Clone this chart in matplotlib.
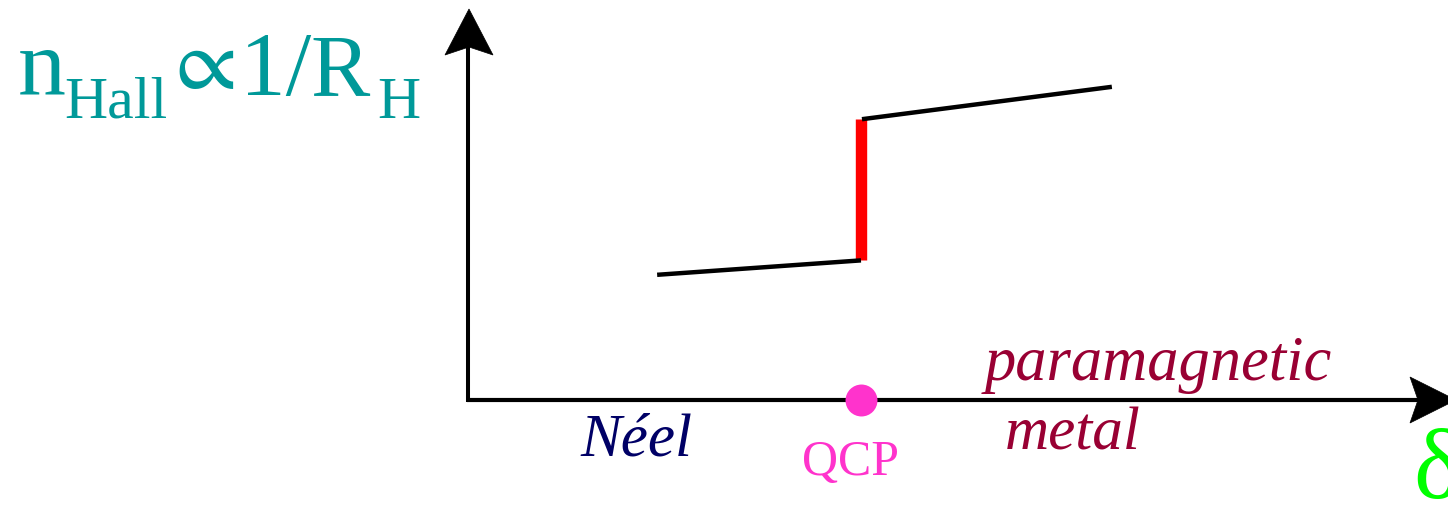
import matplotlib
matplotlib.use('Agg')
import matplotlib.pyplot as plt
from matplotlib.patches import Polygon

W, H = 1448, 505
SERIF = ['Liberation Serif', 'DejaVu Serif']

TEAL = '#009999'
GREEN = '#00FF00'
NAVY = '#000066'
PINK = '#FF33CC'
CRIMSON = '#990033'

# doping axis (arbitrary units) and Hall number on each side of the QCP
delta_neel = [0.193, 0.401]
n_neel = [0.321, 0.358]
delta_pm = [0.402, 0.657]
n_pm = [0.720, 0.803]
delta_qcp = 0.401

fig = plt.figure(figsize=(W / 100, H / 100), dpi=100, facecolor='white')

# overlay in pixel units for the axis arrows and the labels
ov = fig.add_axes([0, 0, 1, 1])
ov.set_xlim(0, W)
ov.set_ylim(H, 0)
ov.axis('off')

# data axes: origin at the corner of the two arrows
x0, y0, top = 468, 400, 10
ax = fig.add_axes([x0 / W, (H - y0) / H, (W - x0) / W, (y0 - top) / H])
ax.set_xlim(0, 1)
ax.set_ylim(0, 1)
ax.axis('off')
ax.set_facecolor('none')

# axis shafts + stealth arrow heads
ov.plot([x0, x0], [y0 + 2, 40], color='black', lw=2.9, solid_capstyle='butt')
ov.plot([x0 - 1, 1430], [y0, y0], color='black', lw=3.0, solid_capstyle='butt')
ov.add_patch(Polygon([(469, 9), (445, 55), (469, 47), (493, 55)],
                     closed=True, fc='black', ec='black', lw=0.5))
ov.add_patch(Polygon([(1456, 400), (1410, 377), (1418, 400), (1410, 423)],
                     closed=True, fc='black', ec='black', lw=0.5))

# jump at the QCP
ax.plot([delta_qcp, delta_qcp], [n_neel[-1], n_pm[0]], color='#FF0000',
        lw=8.2, solid_capstyle='butt', clip_on=False)
ax.plot(delta_neel, n_neel, color='black', lw=3.2, solid_capstyle='butt',
        clip_on=False)
ax.plot(delta_pm, n_pm, color='black', lw=3.2, solid_capstyle='butt',
        clip_on=False)
ax.plot([delta_qcp], [0], 'o', ms=23, color=PINK, mec='none', clip_on=False,
        zorder=5)

# y label: n_Hall ∝ 1/R_H built from pieces
ov.text(18, 95, 'n', family=SERIF, fontsize=69, color=TEAL, va='baseline')
ov.text(64, 118, 'Hall', family=SERIF, fontsize=43, color=TEAL, va='baseline')
ov.text(163, 89, r'$\propto$', math_fontfamily='stix', fontsize=64,
        color=TEAL, va='baseline')
ov.text(240, 95, '1/', family=SERIF, fontsize=66, color=TEAL, va='baseline')
ov.text(310, 95, 'R', family=SERIF, fontsize=64, color=TEAL, va='baseline')
ov.text(377, 118, 'H', family=SERIF, fontsize=43, color=TEAL, va='baseline')

ov.text(1413, 498, 'δ', family=SERIF, fontsize=72, color=GREEN, va='baseline')

ov.text(580, 455, 'Néel', family=SERIF, style='italic', fontsize=44,
        color=NAVY, va='baseline')
ov.text(802, 475, 'QCP', family=SERIF, fontsize=36, color=PINK,
        va='baseline')
ov.text(985, 380, 'paramagnetic', family=SERIF, style='italic', fontsize=45,
        color=CRIMSON, va='baseline')
ov.text(1005, 450, 'metal', family=SERIF, style='italic', fontsize=44,
        color=CRIMSON, va='baseline')

fig.savefig('out.png', dpi=100, facecolor='white')
